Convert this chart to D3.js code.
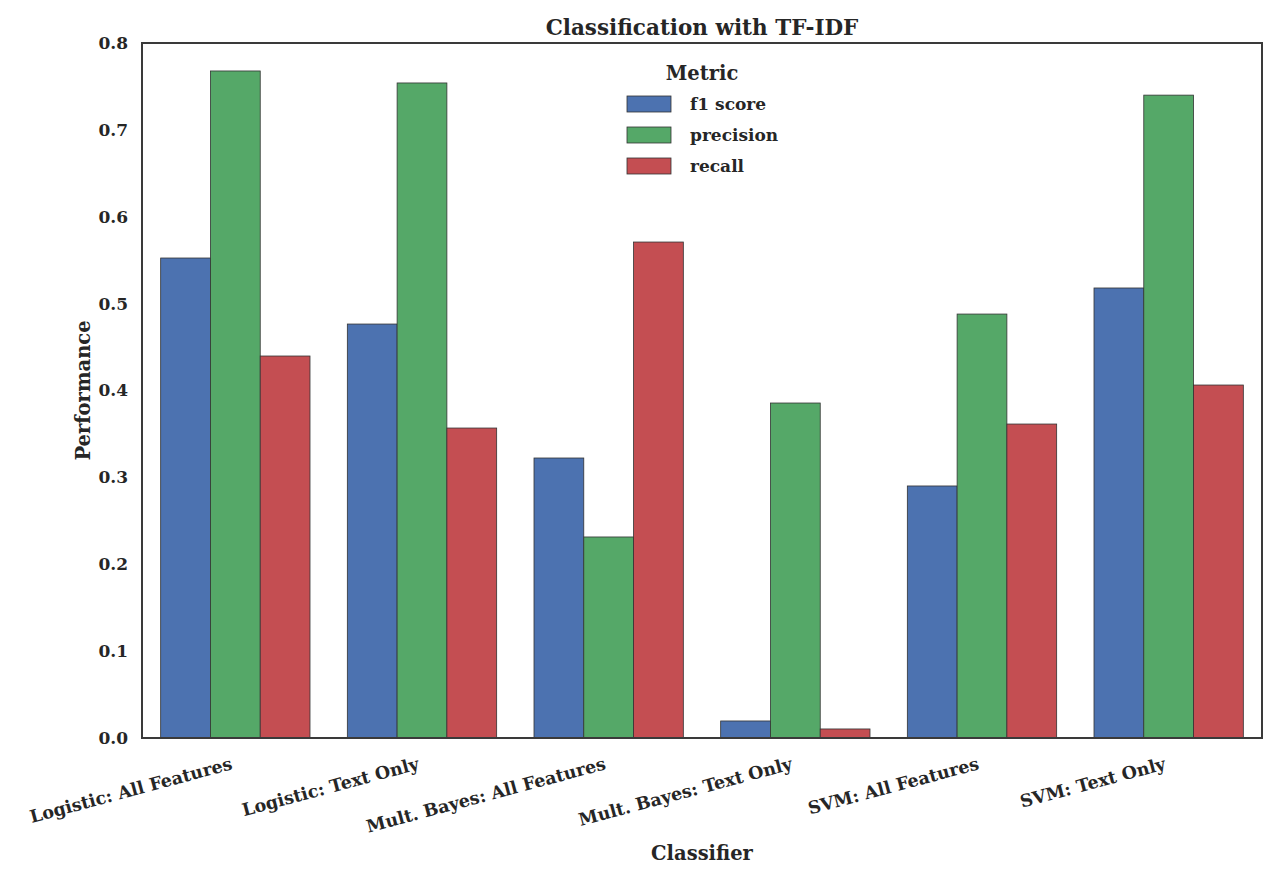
<!DOCTYPE html>
<html><head><meta charset="utf-8">
<script src="https://cdn.jsdelivr.net/npm/d3@7"></script>
<style>body{margin:0;background:#fff}svg text{font-family:"DejaVu Serif",serif;font-weight:bold;fill:#262626}</style>
</head><body>
<svg id="c" width="1280" height="880"></svg>
<script>
const categories = ["Logistic: All Features","Logistic: Text Only","Mult. Bayes: All Features","Mult. Bayes: Text Only","SVM: All Features","SVM: Text Only"];
const metrics = ["f1 score","precision","recall"];
const f1Values = [0.5525,0.4765,0.3223,0.0196,0.2901,0.518];
const precisionValues = [0.7678,0.754,0.2314,0.3856,0.488,0.740];
const recallValues = [0.4397,0.3568,0.5709,0.0104,0.3614,0.4063];
const yTicks = [0.0,0.1,0.2,0.3,0.4,0.5,0.6,0.7,0.8];
const colors = ["#4C72B0","#55A868","#C44E52"];
const series = [f1Values, precisionValues, recallValues];

const svg = d3.select("#c");
const m = {l:142, r:1262, t:43, b:738};
const x = d3.scaleBand().domain(categories).range([m.l, m.r]).paddingInner(0).paddingOuter(0);
const sub = d3.scaleBand().domain(metrics).range([0, x.bandwidth()*0.8]);
const y = d3.scaleLinear().domain([0,0.8]).range([m.b, m.t]);

const data = [];
categories.forEach((c,i)=>metrics.forEach((mm,j)=>data.push({c, m:mm, v:series[j][i], j})));

svg.append("g").selectAll("rect").data(data).join("rect")
  .attr("x", d=>x(d.c)+x.bandwidth()*0.1+sub(d.m))
  .attr("width", sub.bandwidth())
  .attr("y", d=>y(d.v))
  .attr("height", d=>y(0)-y(d.v))
  .attr("fill", d=>colors[d.j])
  .attr("stroke", "#333").attr("stroke-width", 0.8);

// frame
svg.append("rect").attr("x", m.l).attr("y", m.t).attr("width", m.r-m.l).attr("height", m.b-m.t)
  .attr("fill","none").attr("stroke","#3a3a3a").attr("stroke-width",2);

const yAxis = d3.axisLeft(y).tickValues(yTicks).tickFormat(d3.format(".1f")).tickSize(0).tickPadding(14);
const gy = svg.append("g").attr("transform",`translate(${m.l},0)`).call(yAxis);
gy.select(".domain").remove();
gy.selectAll("text").style("font-size","17px").attr("dy","0.32em");

const xAxis = d3.axisBottom(x).tickSize(0).tickPadding(0);
const gx = svg.append("g").attr("transform",`translate(0,${m.b})`).call(xAxis);
gx.select(".domain").remove();
gx.selectAll("text").style("font-size","17.5px")
  .attr("text-anchor","end").attr("dy",null).attr("y",0)
  .attr("transform","translate(-2,31) rotate(-15)");

svg.append("text").attr("x",(m.l+m.r)/2).attr("y",35).attr("text-anchor","middle").style("font-size","21.5px").text("Classification with TF-IDF");
svg.append("text").attr("x",(m.l+m.r)/2).attr("y",860).attr("text-anchor","middle").style("font-size","19.5px").text("Classifier");
svg.append("text").attr("transform",`translate(90,${(m.t+m.b)/2}) rotate(-90)`).attr("text-anchor","middle").style("font-size","19.5px").text("Performance");

// legend
const lg = svg.append("g");
lg.append("text").attr("x",702).attr("y",80).attr("text-anchor","middle").style("font-size","19.5px").text("Metric");
metrics.forEach((mm,j)=>{
  const yy = 96 + j*31;
  lg.append("rect").attr("x",627).attr("y",yy).attr("width",44).attr("height",16).attr("fill",colors[j]).attr("stroke","#333").attr("stroke-width",0.8);
  lg.append("text").attr("x",690).attr("y",yy+8).attr("dy","0.35em").style("font-size","17px").text(mm);
});
</script>
</body></html>
